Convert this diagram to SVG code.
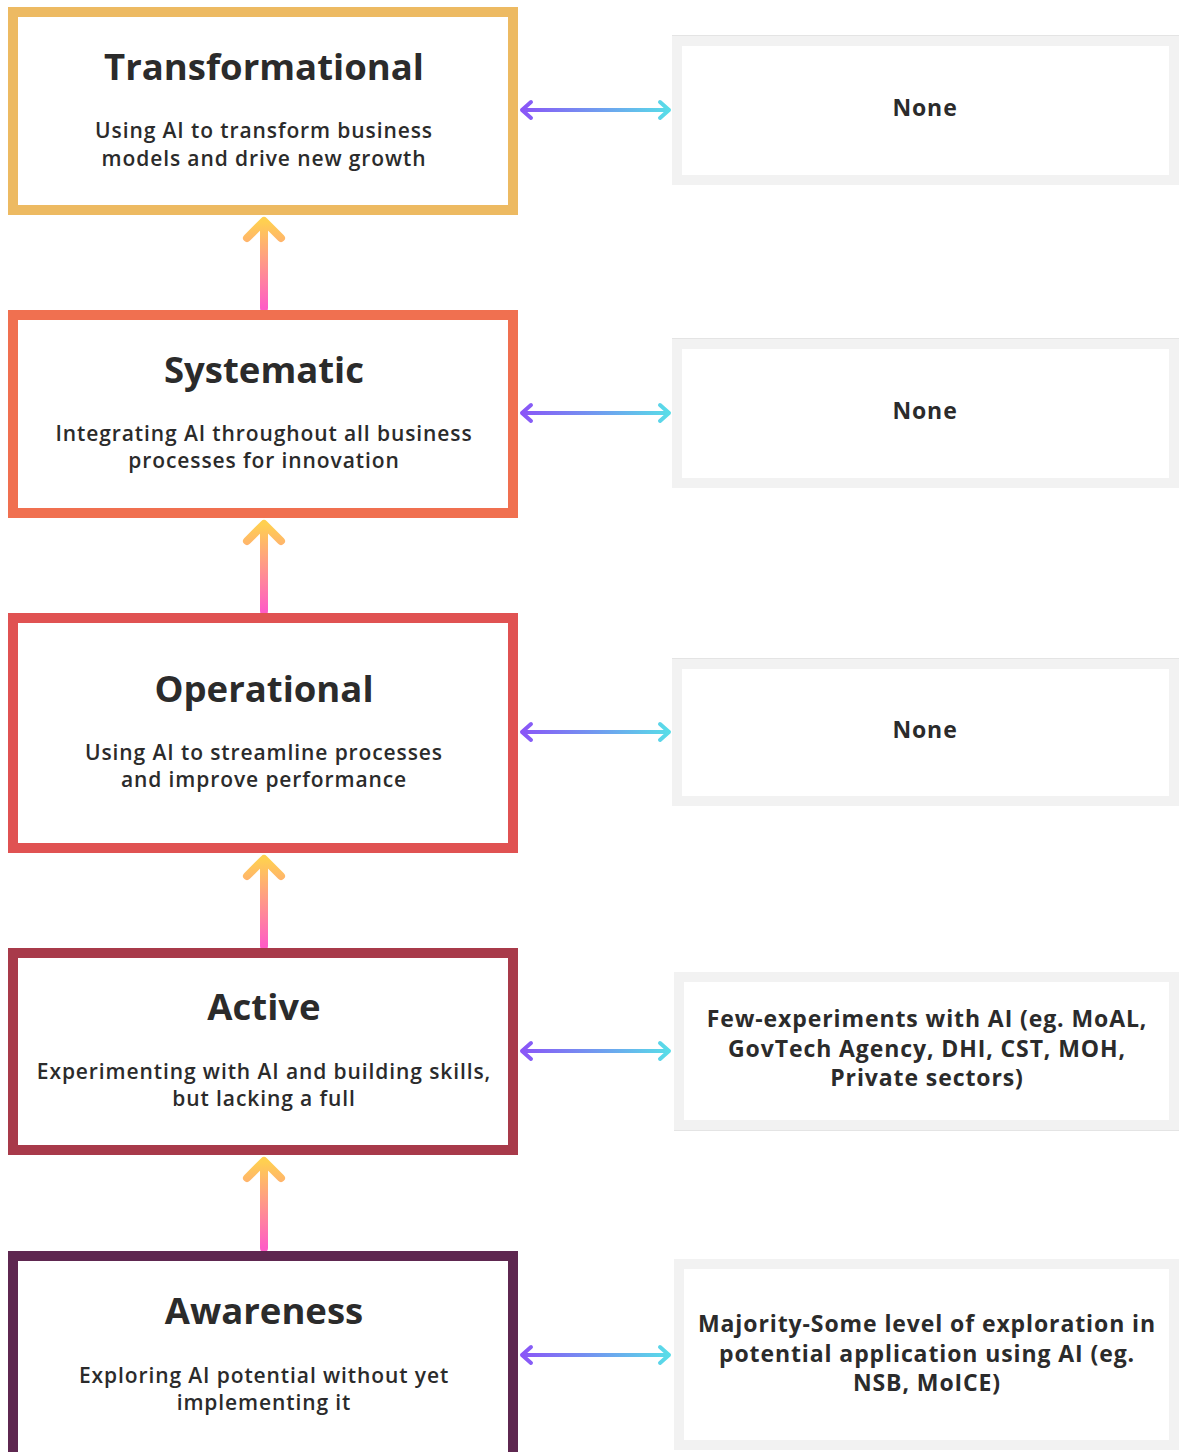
<svg xmlns="http://www.w3.org/2000/svg" width="1179" height="1452" viewBox="0 0 1179 1452">
<style>
.lv{fill:#fff;stroke-width:10}
.rb{fill:#fff;stroke:#f2f2f2;stroke-width:10}
.rl{stroke:#e4e4e4;stroke-width:1}
.t{font-family:"Open Sans","Noto Sans",sans-serif;fill:#2b2b2b;text-anchor:middle}
.h{font-size:36.5px;font-weight:700}
.s{font-size:21px;font-weight:600;letter-spacing:0.9px}
.r{font-size:23px;font-weight:700;letter-spacing:0.9px}
.va{fill:none;stroke:url(#gv);stroke-width:8;stroke-linecap:round;stroke-linejoin:round}
.ha{fill:none;stroke:url(#gh);stroke-width:4;stroke-linecap:round;stroke-linejoin:round}
</style>
<defs>
<linearGradient id="gv" gradientUnits="objectBoundingBox" x1="0" y1="1" x2="0" y2="0">
<stop offset="0" stop-color="#ff5cc6"/><stop offset="1" stop-color="#ffd050"/>
</linearGradient>
<linearGradient id="gh" x1="0" y1="0" x2="1" y2="0">
<stop offset="0" stop-color="#8a55f7"/><stop offset="1" stop-color="#58dde8"/>
</linearGradient>
</defs>
<g id="connectors">
<path class="va" d="M264 308V222M247 238L264 221L281 238"/>
<path class="va" d="M264 611V525M247 541L264 524L281 541"/>
<path class="va" d="M264 946V860M247 876L264 859L281 876"/>
<path class="va" d="M264 1248V1162M247 1178L264 1161L281 1178"/>
<path class="ha" d="M522 110H669M531 102L522 110L531 118M660 102L669 110L660 118"/>
<path class="ha" d="M522 413H669M531 405L522 413L531 421M660 405L669 413L660 421"/>
<path class="ha" d="M522 732H669M531 724L522 732L531 740M660 724L669 732L660 740"/>
<path class="ha" d="M522 1051H669M531 1043L522 1051L531 1059M660 1043L669 1051L660 1059"/>
<path class="ha" d="M522 1355H669M531 1347L522 1355L531 1363M660 1347L669 1355L660 1363"/>
</g>
<g id="transformational">
<rect class="lv" x="13" y="12" width="500" height="198" stroke="#edba62"/>
<text class="t h" x="264" y="80">Transformational</text>
<text class="t s" x="264" y="138">Using AI to transform business</text>
<text class="t s" x="264" y="166">models and drive new growth</text>
</g>
<g id="systematic">
<rect class="lv" x="13" y="315" width="500" height="198" stroke="#f07050"/>
<text class="t h" x="264" y="383">Systematic</text>
<text class="t s" x="264" y="441">Integrating AI throughout all business</text>
<text class="t s" x="264" y="468">processes for innovation</text>
</g>
<g id="operational">
<rect class="lv" x="13" y="618" width="500" height="230" stroke="#e05252"/>
<text class="t h" x="264" y="702">Operational</text>
<text class="t s" x="264" y="760">Using AI to streamline processes</text>
<text class="t s" x="264" y="787">and improve performance</text>
</g>
<g id="active">
<rect class="lv" x="13" y="953" width="500" height="197" stroke="#a83a4a"/>
<text class="t h" x="264" y="1020">Active</text>
<text class="t s" x="264" y="1079">Experimenting with AI and building skills,</text>
<text class="t s" x="264" y="1106">but lacking a full</text>
</g>
<g id="awareness">
<rect class="lv" x="13" y="1256" width="500" height="205" stroke="#5e2750"/>
<text class="t h" x="264" y="1324">Awareness</text>
<text class="t s" x="264" y="1383">Exploring AI potential without yet</text>
<text class="t s" x="264" y="1410">implementing it</text>
</g>
<g id="r1">
<line class="rl" x1="672" y1="35.5" x2="1179" y2="35.5"/>
<rect class="rb" x="677" y="41" width="497" height="139"/>
<text class="t r" x="925" y="116">None</text>
</g>
<g id="r2">
<line class="rl" x1="672" y1="338.5" x2="1179" y2="338.5"/>
<rect class="rb" x="677" y="344" width="497" height="139"/>
<text class="t r" x="925" y="419">None</text>
</g>
<g id="r3">
<line class="rl" x1="672" y1="658.5" x2="1179" y2="658.5"/>
<rect class="rb" x="677" y="664" width="497" height="137"/>
<text class="t r" x="925" y="738">None</text>
</g>
<g id="r4">
<rect class="rb" x="679" y="977" width="495" height="148"/>
<line class="rl" x1="674" y1="1130.5" x2="1179" y2="1130.5"/>
<text class="t r" x="927" y="1027">Few-experiments with AI (eg. MoAL,</text>
<text class="t r" x="927" y="1057">GovTech Agency, DHI, CST, MOH,</text>
<text class="t r" x="927" y="1086">Private sectors)</text>
</g>
<g id="r5">
<rect class="rb" x="679" y="1264" width="495" height="181"/>
<text class="t r" x="927" y="1332">Majority-Some level of exploration in</text>
<text class="t r" x="927" y="1362">potential application using AI (eg.</text>
<text class="t r" x="927" y="1391">NSB, MoICE)</text>
</g>
</svg>
